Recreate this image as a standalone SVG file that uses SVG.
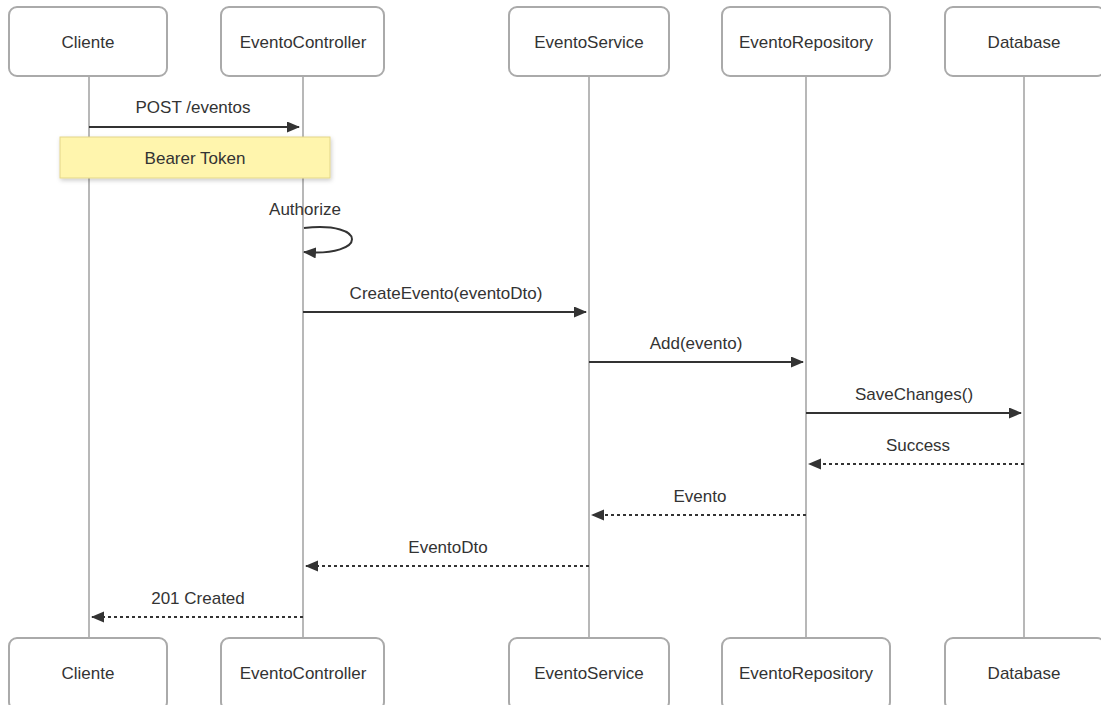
<svg xmlns="http://www.w3.org/2000/svg" width="1101" height="705" viewBox="0 0 1101 705">
  <style>
    .actor rect { fill: #ffffff; stroke: #aaaaaa; stroke-width: 2; }
    .label { font-family: "Liberation Sans", Arial, sans-serif; font-size: 17px; fill: #333333; text-anchor: middle; }
    .lifeline { stroke: #b8b8b8; stroke-width: 2; fill: none; }
    .msg { stroke: #333333; stroke-width: 2; fill: none; marker-end: url(#arrow); }
    .reply { stroke: #333333; stroke-width: 2; fill: none; stroke-dasharray: 3 3; marker-end: url(#arrow); }
  </style>
  <defs>
    <marker id="arrow" markerUnits="userSpaceOnUse" markerWidth="14" markerHeight="12" refX="12" refY="5.5" orient="auto">
      <path d="M0,0 L13,5.5 L0,11 z" fill="#333333"/>
    </marker>
    <filter id="noteShadow" x="-10%" y="-20%" width="120%" height="160%">
      <feDropShadow dx="1" dy="2" stdDeviation="2" flood-color="#000000" flood-opacity="0.2"/>
    </filter>
  </defs>

  <rect width="1101" height="705" fill="#ffffff"/>

  <!-- lifelines -->
  <g id="lifelines">
    <line class="lifeline" x1="89" y1="76" x2="89" y2="638"/>
    <line class="lifeline" x1="303" y1="76" x2="303" y2="638"/>
    <line class="lifeline" x1="589" y1="76" x2="589" y2="638"/>
    <line class="lifeline" x1="806" y1="76" x2="806" y2="638"/>
    <line class="lifeline" x1="1024" y1="76" x2="1024" y2="638"/>
  </g>

  <!-- participants (top) -->
  <g id="cliente-top" class="actor"><rect x="9" y="7" width="158" height="69" rx="8"/><text class="label" x="88" y="48">Cliente</text></g>
  <g id="controller-top" class="actor"><rect x="221" y="7" width="163" height="69" rx="8"/><text class="label" x="303" y="48">EventoController</text></g>
  <g id="service-top" class="actor"><rect x="509" y="7" width="160" height="69" rx="8"/><text class="label" x="589" y="48">EventoService</text></g>
  <g id="repository-top" class="actor"><rect x="722" y="7" width="168" height="69" rx="8"/><text class="label" x="806" y="48">EventoRepository</text></g>
  <g id="database-top" class="actor"><rect x="945" y="7" width="160" height="69" rx="8"/><text class="label" x="1024" y="48">Database</text></g>

  <!-- participants (bottom) -->
  <g id="cliente-bottom" class="actor"><rect x="9" y="638" width="158" height="72" rx="8"/><text class="label" x="88" y="679">Cliente</text></g>
  <g id="controller-bottom" class="actor"><rect x="221" y="638" width="163" height="72" rx="8"/><text class="label" x="303" y="679">EventoController</text></g>
  <g id="service-bottom" class="actor"><rect x="509" y="638" width="160" height="72" rx="8"/><text class="label" x="589" y="679">EventoService</text></g>
  <g id="repository-bottom" class="actor"><rect x="722" y="638" width="168" height="72" rx="8"/><text class="label" x="806" y="679">EventoRepository</text></g>
  <g id="database-bottom" class="actor"><rect x="945" y="638" width="160" height="72" rx="8"/><text class="label" x="1024" y="679">Database</text></g>

  <!-- note -->
  <g id="note-bearer">
    <rect x="60" y="137" width="270" height="41" fill="#fff5ad" stroke="#e3d689" stroke-width="1" filter="url(#noteShadow)"/>
    <text class="label" x="195" y="164">Bearer Token</text>
  </g>

  <!-- messages -->
  <g id="messages">
    <line class="msg" x1="89" y1="127" x2="299" y2="127"/>
    <path class="msg" d="M304,228 C368,221 368,257 304,252"/>
    <line class="msg" x1="303" y1="312" x2="586" y2="312"/>
    <line class="msg" x1="589" y1="362" x2="803" y2="362"/>
    <line class="msg" x1="806" y1="413" x2="1021" y2="413"/>
    <line class="reply" x1="1024" y1="464" x2="809" y2="464"/>
    <line class="reply" x1="806" y1="515" x2="592" y2="515"/>
    <line class="reply" x1="589" y1="566" x2="306" y2="566"/>
    <line class="reply" x1="303" y1="617" x2="92" y2="617"/>
  </g>

  <!-- message labels -->
  <g id="message-labels">
    <text class="label" x="193" y="113">POST /eventos</text>
    <text class="label" x="305" y="215">Authorize</text>
    <text class="label" x="446" y="299">CreateEvento(eventoDto)</text>
    <text class="label" x="696" y="349">Add(evento)</text>
    <text class="label" x="914" y="400">SaveChanges()</text>
    <text class="label" x="918" y="451">Success</text>
    <text class="label" x="700" y="502">Evento</text>
    <text class="label" x="448" y="553">EventoDto</text>
    <text class="label" x="198" y="604">201 Created</text>
  </g>
</svg>
